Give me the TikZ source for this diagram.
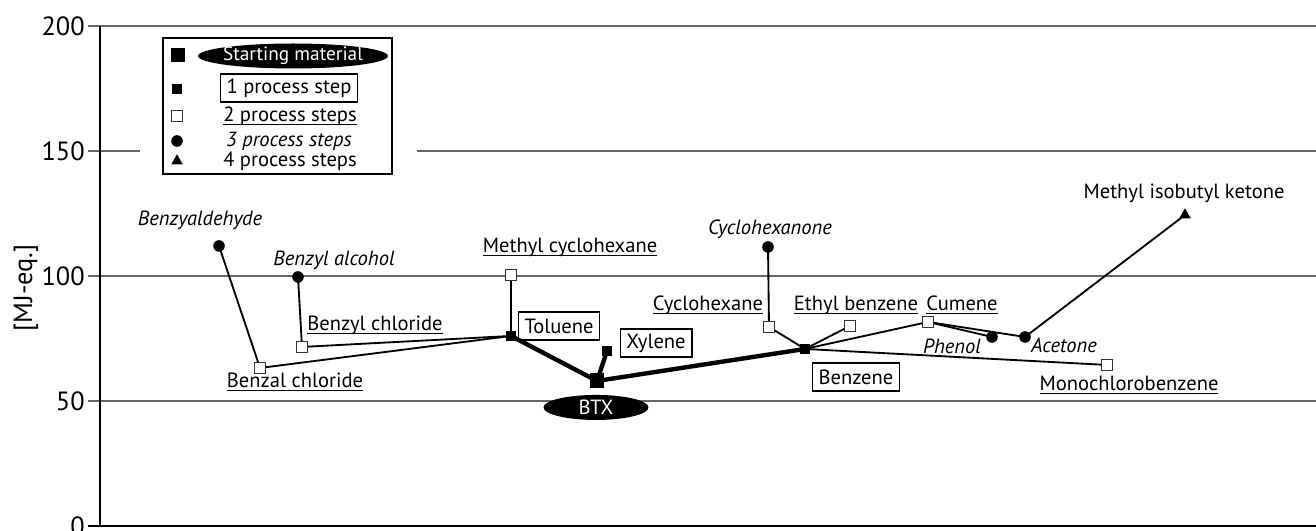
\documentclass[tikz,border=0pt]{standalone}
\usepackage{fontspec}
\setmainfont{PT Sans}
\usepackage{amsmath}
\usepackage{tikz}
\usetikzlibrary{shapes.geometric,backgrounds}
\newcommand{\gridcolor}{black!60}
\newcommand{\linkwidth}{1.05pt}
\newcommand{\basewidth}{2.5pt}
\newcommand{\marksize}{5.8pt}
\newcommand{\uname}[1]{\underline{\smash[b]{#1}}}

\tikzset{
  startmark/.style={fill, rectangle, inner sep=0pt, minimum size=8.5pt},
  onestep/.style={fill, rectangle, inner sep=0pt, minimum size=\marksize},
  twostep/.style={draw=black!80, fill=white, rectangle, inner sep=0pt, minimum size=\marksize, line width=0.5pt},
  threestep/.style={fill, circle, inner sep=0pt, minimum size=6.6pt},
  fourstep/.style={fill, regular polygon, regular polygon sides=3, inner sep=0pt, minimum size=7.6pt},
  startlabel/.style={ellipse, fill, text=white, inner sep=0pt},
  boxlabel/.style={draw, line width=0.8pt, inner xsep=3.5pt, inner ysep=0pt, minimum height=16pt},
  itlabel/.style={font=\fontsize{11.7}{13}\selectfont\itshape},
  ticklabel/.style={anchor=east, inner sep=0pt, font=\fontsize{15}{17}\selectfont},
  link/.style={line width=\linkwidth},
  base/.style={line width=\basewidth}
}

\begin{document}
\begin{tikzpicture}[x=0.02cm, y=0.05cm, font=\fontsize{11.7}{13}\selectfont]
\useasboundingbox (0,-2) rectangle (1316,210.4);
% axes
\foreach \v in {0,50,...,200}
  \node[ticklabel] (tick\v) at (85,\v) {\v};
\node[ticklabel, rotate=90, anchor=center] (unit) at (26,95.2) {[MJ-eq.]};
\draw[line width=1.1pt] (100,200) -- (100,0) -- (1316,0);
\draw[line width=1.1pt] (88,0) -- (100,0);
% starting material
\node[startmark] (btx) at (597,58) {};
% 1 process step
\node[onestep] (tol) at (511,76) {};
\node[onestep] (xyl) at (607,70) {};
\node[onestep] (bz) at (805,70.8) {};
% 2 process steps
\node[twostep] (mch) at (511,100.4) {};
\node[twostep] (bzcl) at (302,71.6) {};
\node[twostep] (bzcl2) at (260,63.2) {};
\node[twostep] (chx) at (769,79.6) {};
\node[twostep] (eb) at (850,80) {};
\node[twostep] (cum) at (928,81.6) {};
\node[twostep] (mcb) at (1107,64.4) {};
% 3 process steps
\node[threestep] (bzal) at (219,112) {};
\node[threestep] (bzoh) at (298,99.6) {};
\node[threestep] (chxone) at (768,111.6) {};
\node[threestep] (phe) at (992,75.6) {};
\node[threestep] (ace) at (1025,75.6) {};
% 4 process steps
\node[fourstep] (mibk) at (1185,124.4) {};
% names
\node[startlabel, minimum width=2.1cm, minimum height=0.5cm] (btx-lab) at (596,47.4) {BTX};
\node[boxlabel] (tol-lab) at (559,80) {Toluene};
\node[boxlabel] (xyl-lab) at (656,73.2) {Xylene};
\node[boxlabel] (bz-lab) at (856,59.6) {Benzene};
\node (mch-lab) at (570,111.6) {\uname{Methyl cyclohexane}};
\node (bzcl-lab) at (375,80.4) {\uname{Benzyl chloride}};
\node (bzcl2-lab) at (295,57.6) {\uname{Benzal chloride}};
\node (chx-lab) at (708,88.4) {\uname{Cyclohexane}};
\node (eb-lab) at (856,88.4) {\uname{Ethyl benzene}};
\node (cum-lab) at (962,88.4) {\uname{Cumene}};
\node (mcb-lab) at (1129,56.4) {\uname{Monochlorobenzene}};
\node[itlabel] (bzal-lab) at (200,122.4) {Benzyaldehyde};
\node[itlabel] (bzoh-lab) at (334,106.4) {Benzyl alcohol};
\node[itlabel] (chxone-lab) at (770,118.8) {Cyclohexanone};
\node[itlabel] (phe-lab) at (952,72) {Phenol};
\node[itlabel] (ace-lab) at (1064,72.4) {Acetone};
\node (mibk-lab) at (1184,133.2) {Methyl isobutyl ketone};
% legend
\draw[line width=0.8pt] (163,195.2) rectangle (392,140.8);
\node[startmark] (key0) at (178,188.4) {};
\node[startlabel, inner xsep=-8pt, inner ysep=-5pt, minimum width=3.8cm, minimum height=0.5cm, font=\fontsize{11}{13}\selectfont] (key0-lab) at (293,188) {Starting material};
\node[onestep] (key1) at (177,174.8) {};
\node[boxlabel] (key1-lab) at (289,175.2) {1 process step};
\node[twostep] (key2) at (177,164) {};
\node (key2-lab) at (290,164) {\uname{2 process steps}};
\node[threestep] (key3) at (177,154) {};
\node[itlabel] (key3-lab) at (289,154) {3 process steps};
\node[fourstep] (key4) at (177,146) {};
\node (key4-lab) at (290,146) {4 process steps};
% grid
\begin{scope}[on background layer]
\draw[\gridcolor, line width=1pt] (88,200) -- (1316,200);
\draw[\gridcolor, line width=1pt] (88,150) -- (140,150);
\draw[\gridcolor, line width=1pt] (417,150) -- (1316,150);
\draw[\gridcolor, line width=1pt] (88,100) -- (1316,100);
\draw[\gridcolor, line width=1pt] (88,50) -- (1316,50);
\end{scope}
% routes
\begin{scope}[on background layer]
\draw[link] (bzal.center) -- (bzcl2.center) -- (tol.center);
\draw[link] (bzoh.center) -- (bzcl.center) -- (tol.center);
\draw[link] (mch.center) -- (tol.center);
\draw[base] (tol.center) -- (btx.center) -- (bz.center);
\draw[base] (xyl.center) -- (btx.center);
\draw[link] (chxone.center) -- (chx.center) -- (bz.center);
\draw[link] (bz.center) -- (eb.center);
\draw[link] (bz.center) -- (cum.center) -- (phe.center);
\draw[link] (cum.center) -- (ace.center) -- (mibk.center);
\draw[link] (bz.center) -- (mcb.center);
\end{scope}
\end{tikzpicture}
\end{document}
